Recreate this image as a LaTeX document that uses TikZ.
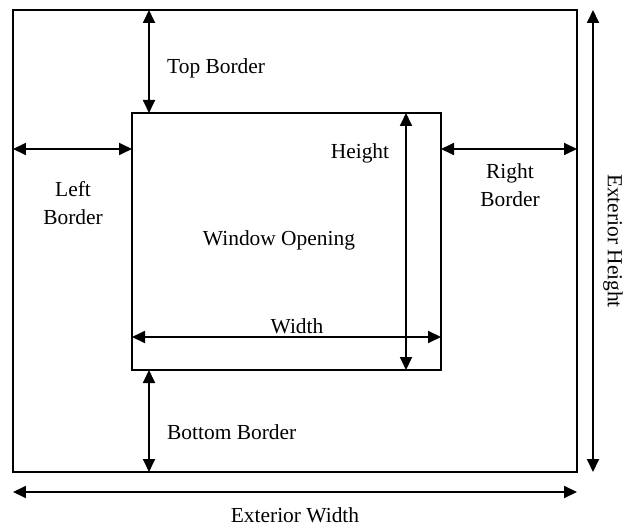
\documentclass[tikz,border=0pt]{standalone}
\usepackage{fontspec}
\setmainfont{Liberation Serif}
\usetikzlibrary{arrows.meta}
\begin{document}
\begin{tikzpicture}[x=1bp,y=-1bp,
  frame/.style={draw, line width=1.8bp, inner sep=0pt, outer sep=0pt},
  dim/.style={line width=1.8bp, {Triangle[length=13bp,width=12bp]}-{Triangle[length=13bp,width=12bp]}},
  lbl/.style={font=\fontsize{21.5}{28}\selectfont, inner sep=0pt, align=center}]
\useasboundingbox (0,0) rectangle (627,527);
\node[frame, minimum width=564bp, minimum height=462bp] (outer) at (295,241) {};
\node[frame, minimum width=309bp, minimum height=257bp] (inner) at (286.5,241.5) {};
\coordinate (tb) at (149,0);
\coordinate (lr) at (0,149);
\coordinate (hx) at (406,0);
\coordinate (wy) at (0,337);
\coordinate (ehx) at (593,0);
\coordinate (ewy) at (0,492);
\draw[dim] (outer.north -| tb) -- (inner.north -| tb);
\draw[dim] (outer.west |- lr) -- (inner.west |- lr);
\draw[dim] (inner.east |- lr) -- (outer.east |- lr);
\draw[dim] (inner.north -| hx) -- (inner.south -| hx);
\draw[dim] (inner.west |- wy) -- (inner.east |- wy);
\draw[dim] (inner.south -| tb) -- (outer.south -| tb);
\draw[dim] (outer.north -| ehx) -- (outer.south -| ehx);
\draw[dim] (outer.west |- ewy) -- (outer.east |- ewy);
\node[lbl, anchor=west] (ttop) at (167,68) {Top Border};
\node[lbl] (tleft) at (73,203) {Left\\Border};
\node[lbl] (tright) at (510,185) {Right\\Border};
\node[lbl] (theight) at (360,153) {Height};
\node[lbl] (twin) at (279,240) {Window Opening};
\node[lbl] (twidth) at (297,326) {Width};
\node[lbl, anchor=west] (tbottom) at (167,432) {Bottom Border};
\node[lbl] (tew) at (295,515) {Exterior Width};
\node[lbl, rotate=-90] (teh) at (613,241) {Exterior Height};
\end{tikzpicture}
\end{document}
